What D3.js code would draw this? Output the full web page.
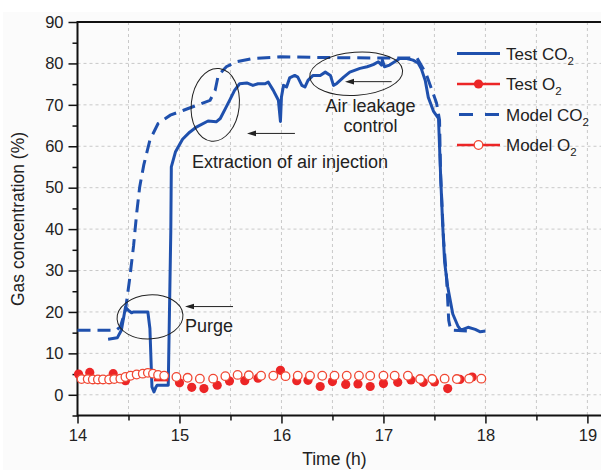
<!DOCTYPE html>
<html>
<head>
<meta charset="utf-8">
<script src="https://cdn.jsdelivr.net/npm/d3@7"></script>
<style>
  body { margin: 0; background: #fff; }
  svg { display: block; font-family: "Liberation Sans", Arial, sans-serif; }
</style>
</head>
<body>
<svg></svg>
<script>
// values: [time (h), concentration (%)]
var testCO2 = [
  [14.30,13.4],[14.39,13.75],[14.43,15.6],[14.47,21.1],[14.50,20.4],[14.53,19.8],[14.55,20.0],
  [14.69,20.0],[14.71,16.0],[14.73,1.9],[14.75,0.7],[14.77,1.9],[14.78,2.3],[14.89,2.3],
  [14.915,39.7],[14.92,55.0],[14.96,58.6],[15.03,61.7],[15.10,63.4],[15.17,64.7],[15.28,66.1],
  [15.36,65.9],[15.40,66.7],[15.45,69.1],[15.50,71.5],[15.54,73.5],[15.59,75.1],[15.66,75.3],
  [15.72,74.7],[15.77,75.1],[15.84,75.1],[15.87,75.5],[15.92,73.5],[15.97,71.1],[15.99,66.0],
  [16.00,71.9],[16.02,74.7],[16.05,74.3],[16.08,76.5],[16.13,77.1],[16.16,76.7],[16.20,74.7],
  [16.23,74.3],[16.26,75.9],[16.31,77.1],[16.38,77.1],[16.43,77.9],[16.48,77.1],[16.51,74.7],
  [16.54,75.1],[16.61,76.7],[16.67,77.9],[16.77,78.8],[16.84,79.2],[16.90,79.7],[16.95,80.4],
  [16.98,79.6],[16.99,80.8],[17.01,79.2],[17.06,79.6],[17.11,80.4],[17.16,81.2],[17.23,81.2],
  [17.29,80.8],[17.34,80.1],[17.37,78.8],[17.41,75.9],[17.44,71.8],[17.49,68.5],[17.54,66.7],
  [17.56,53.4],[17.58,41.4],[17.60,32.0],[17.63,26.1],[17.68,19.5],[17.73,16.6],[17.76,15.6],
  [17.83,16.3],[17.90,15.8],[17.95,15.2],[18.00,15.4]
];

var modelCO2 = [
  [14.00,15.6],[14.38,15.6],[14.42,16.4],[14.47,20.4],[14.51,27.7],[14.55,36.0],[14.58,43.8],
  [14.61,50.2],[14.65,55.5],[14.71,61.5],[14.79,65.5],[14.91,67.5],[15.04,68.7],[15.17,69.9],
  [15.30,71.1],[15.35,73.5],[15.38,77.1],[15.46,79.2],[15.56,80.4],[15.72,81.2],[15.99,81.6],
  [16.50,81.4],[17.00,81.3],[17.33,81.3],[17.42,77.4],[17.52,70.5],[17.55,66.3],[17.56,53.4],
  [17.59,37.3],[17.62,27.7],[17.64,18.0],[17.66,15.6],[17.82,15.4]
];

var testO2 = [
  [14.01,5.0],[14.12,5.4],[14.35,5.1],[14.47,3.4],[15.00,2.9],[15.12,1.8],[15.24,1.5],
  [15.37,2.3],[15.49,3.3],[15.64,3.4],[15.77,4.0],[15.99,5.9],[16.15,3.4],[16.26,3.5],
  [16.38,2.0],[16.50,3.2],[16.63,2.5],[16.75,2.6],[16.87,2.0],[17.00,2.7],[17.14,3.0],
  [17.27,3.6],[17.39,3.0],[17.50,3.1],[17.63,1.5],[17.75,3.7],[17.87,4.3]
];
// short run of test O2 readings inside the purge gap
var testO2Trace = [[14.75,3.6],[14.89,3.6]];

var modelO2 = [
  [14.04,3.8],[14.10,3.8],[14.15,3.7],[14.20,3.7],[14.25,3.7],[14.31,3.7],[14.36,3.8],
  [14.42,3.9],[14.47,4.3],[14.52,4.6],[14.58,4.9],[14.64,5.1],[14.69,5.3],[14.74,5.1],
  [14.79,4.8],[14.85,4.6],[14.97,4.3],[15.08,4.1],[15.20,3.9],[15.33,3.9],[15.45,4.5],
  [15.57,4.8],[15.68,4.7],[15.80,4.6],[15.92,4.6],[16.04,4.5],[16.16,4.6],[16.28,4.6],
  [16.40,4.6],[16.52,4.6],[16.64,4.6],[16.76,4.6],[16.87,4.6],[17.00,4.6],[17.11,4.6],
  [17.24,4.6],[17.36,3.8],[17.48,3.8],[17.60,3.9],[17.72,3.8],[17.84,3.9],[17.96,3.9]
];

var xTicks = [14, 15, 16, 17, 18, 19];
var yTicks = [0, 10, 20, 30, 40, 50, 60, 70, 80, 90];
var legendNames = [["Test CO", "2"], ["Test O", "2"], ["Model CO", "2"], ["Model O", "2"]];

var blue = "#1f50ad", red = "#ec2526", redOpen = "#f04834";

var width = 601, height = 470;
var svg = d3.select("svg").attr("width", width).attr("height", height);

svg.append("rect").attr("x", 3).attr("y", 12).attr("width", width).attr("height", height)
  .attr("fill", "#fbfbfb");

var x = d3.scaleLinear().domain([14, 19.3]).range([77.5, 618]);
var y = d3.scaleLinear().domain([-5, 90]).range([415.5, 22]);

// grid
var grid = svg.append("g").attr("stroke", "#c9c9c9").attr("stroke-dasharray", "3,3").attr("stroke-width", 1);
grid.selectAll(".gx").data(d3.range(14.5, 19.3, 0.5)).enter().append("line")
  .attr("x1", function(d) { return x(d); }).attr("x2", function(d) { return x(d); })
  .attr("y1", y(90)).attr("y2", y(-5));
grid.selectAll(".gy").data(yTicks).enter().append("line")
  .attr("x1", x(14)).attr("x2", width)
  .attr("y1", function(d) { return y(d); }).attr("y2", function(d) { return y(d); });

// axes
var xAxis = svg.append("g").attr("transform", "translate(0," + y(-5) + ")")
  .call(d3.axisBottom(x).tickValues(xTicks).tickFormat(d3.format("d")).tickSize(8).tickPadding(6));
svg.append("g").attr("transform", "translate(0," + y(-5) + ")")
  .call(d3.axisBottom(x).tickValues(d3.range(14.5, 19.3, 1)).tickFormat("").tickSize(5))
  .select(".domain").remove();
var yAxis = svg.append("g").attr("transform", "translate(" + x(14) + ",0)")
  .call(d3.axisLeft(y).tickValues(yTicks).tickSize(9).tickPadding(5));
svg.append("g").attr("transform", "translate(" + x(14) + ",0)")
  .call(d3.axisLeft(y).tickValues(d3.range(-5, 90, 10)).tickFormat("").tickSize(5))
  .select(".domain").remove();
svg.selectAll(".domain").attr("stroke-width", 2).attr("d", null);
xAxis.select(".domain").remove();
yAxis.select(".domain").remove();
svg.append("line").attr("x1", x(14)).attr("x2", width).attr("y1", y(-5)).attr("y2", y(-5))
  .attr("stroke", "#111").attr("stroke-width", 2);
svg.append("line").attr("x1", x(14)).attr("x2", x(14)).attr("y1", y(90) - 1).attr("y2", y(-5) + 1)
  .attr("stroke", "#111").attr("stroke-width", 2);
svg.append("line").attr("x1", x(14)).attr("x2", width).attr("y1", y(90)).attr("y2", y(90))
  .attr("stroke", "#111").attr("stroke-width", 2);
svg.selectAll(".tick line").attr("stroke", "#111").attr("stroke-width", 1.5);
svg.selectAll(".tick text").attr("font-size", 16.5).attr("fill", "#222")
  .attr("font-family", "Liberation Sans, Arial, sans-serif");

svg.append("text").attr("x", x(16.5) + 2).attr("y", 465).attr("text-anchor", "middle")
  .attr("font-size", 17.5).attr("fill", "#222").text("Time (h)");
svg.append("text").attr("transform", "translate(24,219) rotate(-90)").attr("text-anchor", "middle")
  .attr("font-size", 17.5).attr("fill", "#222").text("Gas concentration (%)");

// series
var line = d3.line().x(function(d) { return x(d[0]); }).y(function(d) { return y(d[1]); });

svg.append("path").datum(testCO2).attr("d", line).attr("fill", "none")
  .attr("stroke", blue).attr("stroke-width", 3).attr("stroke-linejoin", "round");

svg.append("path").datum(testO2Trace).attr("d", line).attr("fill", "none")
  .attr("stroke", red).attr("stroke-width", 3);
svg.selectAll(".tO2").data(testO2).enter().append("circle")
  .attr("cx", function(d) { return x(d[0]); }).attr("cy", function(d) { return y(d[1]); })
  .attr("r", 4.6).attr("fill", red);

svg.append("path").datum(modelCO2).attr("d", line).attr("fill", "none")
  .attr("stroke", blue).attr("stroke-width", 3).attr("stroke-dasharray", "13,7");

svg.selectAll(".mO2").data(modelO2).enter().append("circle")
  .attr("cx", function(d) { return x(d[0]); }).attr("cy", function(d) { return y(d[1]); })
  .attr("r", 4.3).attr("fill", "#fff").attr("stroke", redOpen).attr("stroke-width", 1.3);

// annotations
var ink = "#222";
var ellipses = [
  { t: 14.711, v: 18.8, rx: 33, ry: 22, rot: -4 },
  { t: 15.351, v: 70.0, rx: 24, ry: 36.5, rot: 6 },
  { t: 16.733, v: 77.5, rx: 46.5, ry: 21.5, rot: -4 }
];
svg.selectAll(".ell").data(ellipses).enter().append("ellipse")
  .attr("transform", function(d) { return "translate(" + x(d.t) + "," + y(d.v) + ") rotate(" + d.rot + ")"; })
  .attr("rx", function(d) { return d.rx; }).attr("ry", function(d) { return d.ry; })
  .attr("fill", "none").attr("stroke", ink).attr("stroke-width", 1);

var arrows = [
  { t0: 15.525, t1: 15.054, v: 21.3 },
  { t0: 16.132, t1: 15.662, v: 63.1 },
  { t0: 17.080, t1: 16.623, v: 75.6 }
];
arrows.forEach(function(a) {
  var x0 = x(a.t0), x1 = x(a.t1), yy = y(a.v);
  svg.append("line").attr("x1", x0).attr("x2", x1 + 6).attr("y1", yy).attr("y2", yy)
    .attr("stroke", ink).attr("stroke-width", 1);
  svg.append("path").attr("d", "M" + x1 + "," + yy + "l9,-2.8l0,5.6z").attr("fill", ink);
});

var notes = [
  { t: 15.054, v: 15.2, anchor: "start", text: "Purge" },
  { t: 15.123, v: 54.7, anchor: "start", text: "Extraction of air injection" },
  { t: 16.874, v: 68.3, anchor: "middle", text: "Air leakage" },
  { t: 16.874, v: 63.5, anchor: "middle", text: "control" }
];
svg.selectAll(".note").data(notes).enter().append("text")
  .attr("x", function(d) { return x(d.t); }).attr("y", function(d) { return y(d.v); })
  .attr("text-anchor", function(d) { return d.anchor; })
  .attr("font-size", 18).attr("fill", ink).text(function(d) { return d.text; });

// legend
var lg = svg.append("g");
legendNames.forEach(function(name, i) {
  var yy = 53.5 + i * 30.5;
  var l = lg.append("line").attr("x1", 457).attr("x2", 500).attr("y1", yy).attr("y2", yy)
    .attr("stroke", i % 2 ? red : blue).attr("stroke-width", i % 2 ? 2.5 : 3);
  if (i == 2) l.attr("stroke-dasharray", "14,12").attr("x1", 459);
  if (i == 1) lg.append("circle").attr("cx", 478.5).attr("cy", yy).attr("r", 4.6).attr("fill", red);
  if (i == 3) lg.append("circle").attr("cx", 478.5).attr("cy", yy).attr("r", 4.3)
    .attr("fill", "#fff").attr("stroke", redOpen).attr("stroke-width", 1.3);
  var t = lg.append("text").attr("x", 506).attr("y", yy + 6).attr("font-size", 17).attr("fill", ink);
  t.append("tspan").text(name[0]);
  t.append("tspan").attr("font-size", 11.5).attr("dy", 5).text(name[1]);
});
</script>
</body>
</html>
